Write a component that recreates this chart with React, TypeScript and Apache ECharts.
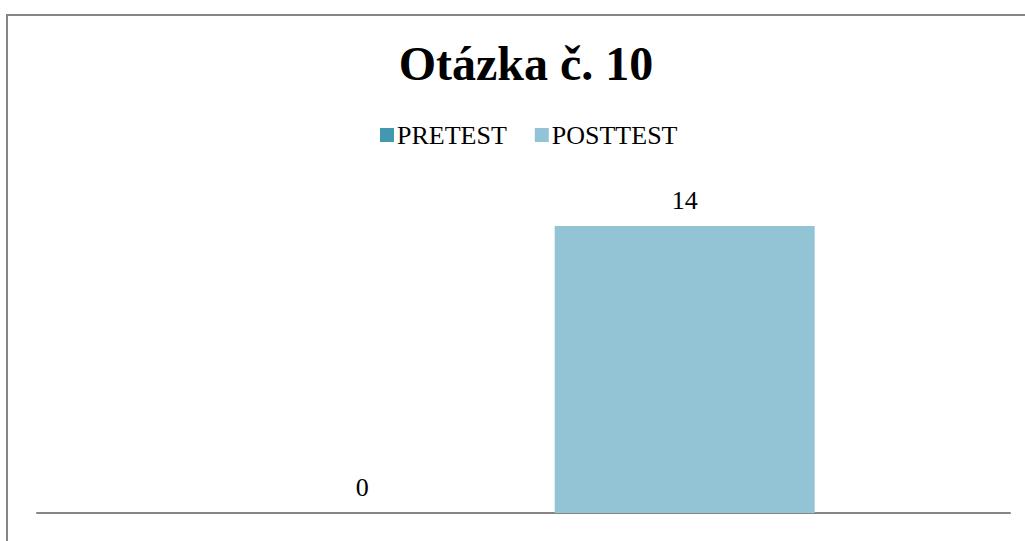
import React, { useEffect, useRef } from "react";
import * as echarts from "echarts";

const titleText = "Otázka č. 10";
const categories = [""];
const seriesNames = ["PRETEST", "POSTTEST"];
const pretestValues = [0];
const posttestValues = [14];
const seriesColors = ["#4198AF", "#93C4D5"];

const FONT = "'Liberation Serif', 'Times New Roman', serif";

export default function App() {
  const ref = useRef<HTMLDivElement>(null);
  useEffect(() => {
    if (!ref.current) return;
    const chart = echarts.init(ref.current, undefined, { renderer: "svg" });
    const label = {
      show: true,
      position: "top",
      distance: 13,
      fontSize: 26,
      color: "#000",
      fontFamily: FONT,
    };
    chart.setOption({
      animation: false,
      backgroundColor: "#fff",
      title: {
        text: titleText,
        left: 521,
        textAlign: "center",
        top: 34,
        textStyle: { fontSize: 48, fontWeight: "bold", color: "#000", fontFamily: FONT },
      },
      legend: {
        left: 375,
        top: 117,
        itemWidth: 14,
        itemHeight: 14,
        itemGap: 28,
        icon: "rect",
        textStyle: { fontSize: 26, color: "#000", fontFamily: FONT, padding: [0, 0, 0, -2] },
        data: seriesNames,
      },
      grid: { left: 37, right: 15, top: 185, bottom: 28, containLabel: false },
      xAxis: {
        type: "category",
        data: categories,
        axisLine: { show: true, lineStyle: { color: "#858585", width: 2 } },
        axisTick: { show: false },
        axisLabel: { show: false },
      },
      yAxis: {
        type: "value",
        min: 0,
        max: 16,
        show: false,
        splitLine: { show: false },
      },
      graphic: [
        {
          type: "polyline",
          shape: { points: [[7, 545], [7, 15], [1030, 15]] },
          style: { fill: "none", stroke: "#858585", lineWidth: 2 },
          silent: true,
        },
      ],
      series: [
        {
          name: seriesNames[0],
          type: "bar",
          data: pretestValues,
          barWidth: 260,
          barGap: "24%",
          itemStyle: { color: seriesColors[0] },
          label,
        },
        {
          name: seriesNames[1],
          type: "bar",
          data: posttestValues,
          barWidth: 260,
          barGap: "24%",
          itemStyle: { color: seriesColors[1] },
          label,
        },
      ],
    });
    return () => chart.dispose();
  }, []);
  return (
    <div
      ref={ref}
      style={{ position: "absolute", left: 0, top: 0, width: 1025, height: 541 }}
    />
  );
}
